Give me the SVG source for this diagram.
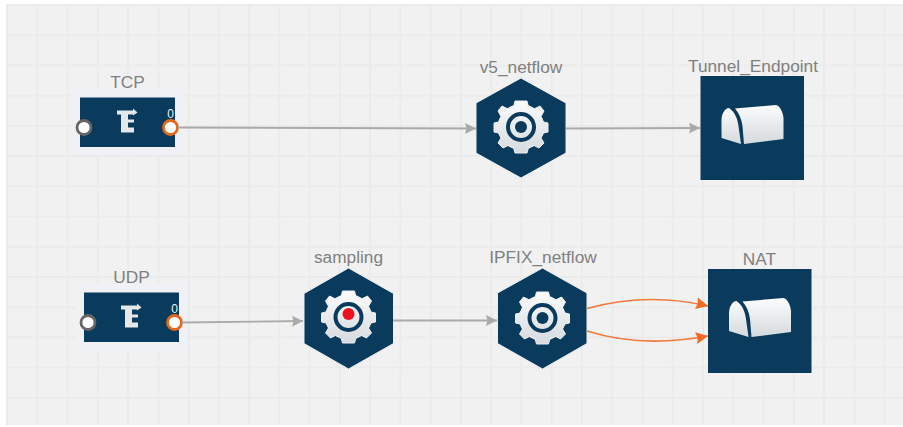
<svg xmlns="http://www.w3.org/2000/svg" width="903" height="427" viewBox="0 0 903 427">
<style>
.lbl{font-family:"Liberation Sans",Arial,sans-serif;font-size:17.3px;fill:#808080;text-anchor:middle}
.num{font-family:"Liberation Sans",Arial,sans-serif;font-size:12px;fill:#eef2f5;text-anchor:middle}
.body{fill:#0a3a5c}
.halo{fill:#eff1f5}
.g{stroke:#aaaaaa;stroke-width:1.8;fill:none;marker-end:url(#ag)}
.o{stroke:#f47a3c;stroke-width:1.6;fill:none;marker-end:url(#ao)}
.pin{fill:#fff;stroke:#666;stroke-width:2.8}
.pout{fill:#fff;stroke:#e2691e;stroke-width:2.8}
.glyph{fill:url(#lg)}
.gearf{fill:url(#lgu)}
.grid{stroke:#ebebeb;stroke-width:2;fill:none}
</style>
<defs>
<linearGradient id="lg" x1="0" y1="0" x2="0" y2="1"><stop offset="0" stop-color="#fbfcfc"/><stop offset="1" stop-color="#d5dade"/></linearGradient>
<linearGradient id="lgu" gradientUnits="userSpaceOnUse" x1="0" y1="-27" x2="0" y2="27"><stop offset="0" stop-color="#fbfcfc"/><stop offset="1" stop-color="#d5dade"/></linearGradient>
<marker id="ag" markerUnits="userSpaceOnUse" markerWidth="12" markerHeight="12" refX="11" refY="5.500" orient="auto"><path d="M0 0L11 5.500L0 11L1.500 5.500Z" fill="#aaaaaa"/></marker>
<marker id="ao" markerUnits="userSpaceOnUse" markerWidth="13" markerHeight="13" refX="12" refY="6" orient="auto"><path d="M0 0L12 6L0 12L1.500 6Z" fill="#f46a24"/></marker>
<g id="gear"><circle r="23" class="gearf"/><path class="gearf" stroke="#eceff1" stroke-width="1" stroke-linejoin="round" d="M-6 -26L6 -26L7.500 -20L13 -18L19 -21L23 -16L20 -10.500L22.500 -5L27 -4L27 5L22.500 6L20 11L23 16L18 21L13 18.500L7.500 20.500L6 26L-6 26L-7.500 20.500L-13 18.500L-18 21L-23 16L-20 11L-22.500 6L-27 5L-27 -4L-22.500 -5L-20 -10.500L-23 -16L-19 -21L-13 -18L-7.500 -20L-6 -26Z"/><circle r="13" fill="none" stroke="#0a3a5c" stroke-width="4"/></g>
<g id="tun"><path class="glyph" d="M-23 -20C-27 -20 -30.500 -14 -30.500 -8L-30.500 10L-11 16L-13.500 -2C-14.500 -9 -17 -16 -23 -20Z"/><path class="glyph" d="M-17 -19.500L24 -23C28 -22 31 -16 31.500 -10L31.500 11L-8 16L-9.500 -2C-10.500 -9 -13 -15 -17 -19.500Z"/></g>
<g id="efilter"><path fill="#e4e8ea" d="M-10 -11L6 -11L6 -13L10.500 -9L6 -6L6 -7L1 -7L1 -2L7 -2L7 1L1 1L1 6L7 6L7 11L-6 11L-6 -7L-10 -7Z"/></g>
</defs>
<rect width="903" height="427" fill="#ffffff"/>
<rect x="6" y="4" width="897" height="421" fill="#f1f1f1"/>
<g id="grid"><path class="grid" d="M7 4V425M37.300 4V425M67.500 4V425M97.800 4V425M128 4V425M158.300 4V425M188.600 4V425M218.800 4V425M249.100 4V425M279.300 4V425M309.600 4V425M339.900 4V425M370.100 4V425M400.400 4V425M430.600 4V425M460.900 4V425M491.200 4V425M521.400 4V425M551.700 4V425M581.900 4V425M612.200 4V425M642.500 4V425M672.700 4V425M703 4V425M733.200 4V425M763.500 4V425M793.800 4V425M824 4V425M854.300 4V425M884.500 4V425M6 5H903M6 35.200H903M6 65.400H903M6 95.700H903M6 125.900H903M6 156.100H903M6 186.300H903M6 216.500H903M6 246.800H903M6 277H903M6 307.200H903M6 337.400H903M6 367.600H903M6 397.900H903"/></g>
<g id="TCP"><text class="lbl" x="127.500" y="88">TCP</text><rect class="halo" x="72" y="88" width="111" height="67" rx="2"/><rect class="body" x="80" y="97.500" width="95" height="49.500"/><use href="#efilter" x="127" y="121.500"/><text class="num" x="170.500" y="118">0</text><circle class="pin" cx="84" cy="127.500" r="7"/><circle class="pout" cx="170.500" cy="127.500" r="7"/></g>
<g id="v5_netflow"><text class="lbl" x="521" y="73">v5_netflow</text><path class="body" stroke="#e9eef2" d="M521 78L566 103L566 153L521 178L476 153L476 103Z"/><use href="#gear" x="521" y="127"/><circle cx="521" cy="127" r="6" fill="#0a3a5c"/></g>
<g id="Tunnel_Endpoint"><text class="lbl" x="753" y="72">Tunnel_Endpoint</text><rect class="body" x="700.500" y="76" width="103.500" height="104"/><use href="#tun" x="752" y="128"/></g>
<g id="UDP"><text class="lbl" x="131.500" y="283">UDP</text><rect class="halo" x="76" y="283" width="111" height="67" rx="2"/><rect class="body" x="84" y="292.500" width="95" height="49.500"/><use href="#efilter" x="131" y="316.500"/><text class="num" x="174.500" y="313">0</text><circle class="pin" cx="88" cy="322.500" r="7"/><circle class="pout" cx="174.500" cy="322.500" r="7"/></g>
<g id="sampling"><text class="lbl" x="348.500" y="263">sampling</text><path class="body" stroke="#e9eef2" d="M348.500 268L393.500 293.500L393.500 343.500L348.500 369L304 343.500L304 293.500Z"/><use href="#gear" x="348.500" y="317"/><circle cx="348.500" cy="314" r="6" fill="#ee1122"/></g>
<g id="IPFIX_netflow"><text class="lbl" x="543" y="263">IPFIX_netflow</text><path class="body" stroke="#e9eef2" d="M542.500 268L587 293L587 343.500L542.500 369L497.500 343.500L497.500 293Z"/><use href="#gear" x="542.500" y="318"/><circle cx="542.500" cy="318" r="6" fill="#0a3a5c"/></g>
<g id="NAT"><text class="lbl" x="759.500" y="265">NAT</text><rect class="body" x="708" y="269" width="103.500" height="104"/><use href="#tun" x="759.500" y="321"/></g>
<g id="connectors">
<path class="g" d="M178 127.500L476 128.500"/>
<path class="g" d="M566 128.500L700 128"/>
<path class="g" d="M182 322.500L303 321"/>
<path class="g" d="M393 320.500L497 320.500"/>
<path class="o" d="M587 308.500C625 298 665 296 708 306"/>
<path class="o" d="M587 331C625 343 665 344 708 336"/>
</g>
</svg>
